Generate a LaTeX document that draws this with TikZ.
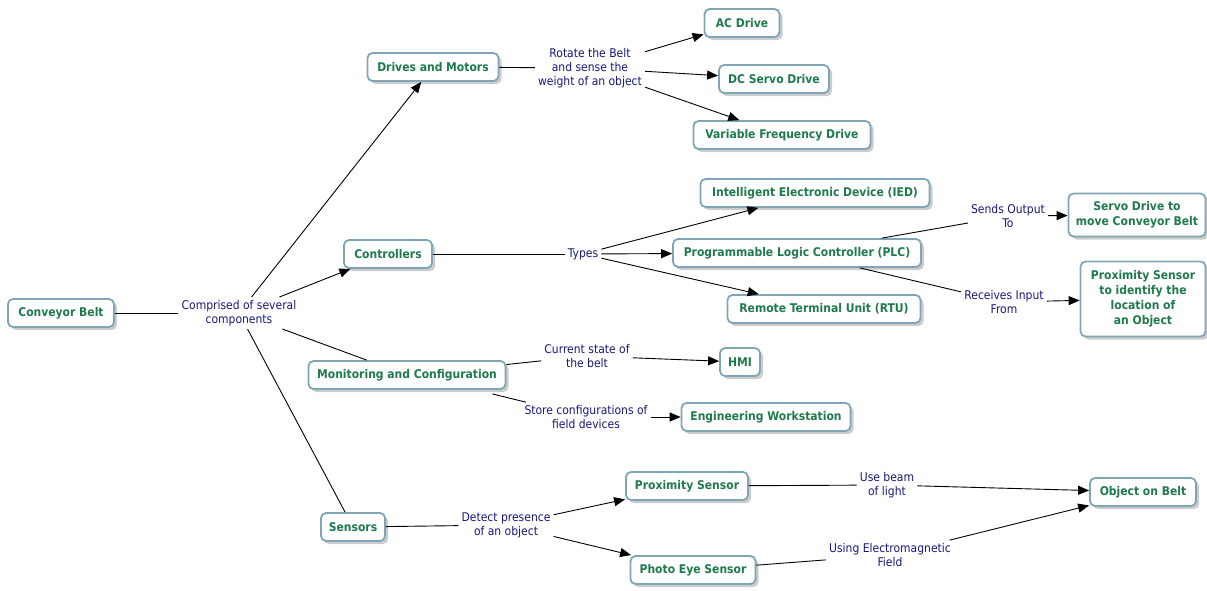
\documentclass[tikz,border=0pt]{standalone}
\usepackage{fontspec}
\setmainfont{DejaVu Sans Condensed}
\usetikzlibrary{arrows.meta,shadows}
\definecolor{cgreen}{HTML}{1F7A4D}
\definecolor{cnavy}{HTML}{18187C}
\definecolor{cborder}{HTML}{7FA6B6}
\tikzset{
 concept/.style={draw=cborder, line width=1.8pt, rounded corners=5pt, fill=white, text=cgreen,
   font=\bfseries\fontsize{12}{15}\selectfont, align=center, inner xsep=6pt, inner ysep=7pt,
   minimum height=28pt,
   drop shadow={shadow xshift=3pt, shadow yshift=-3pt, fill=black!20, opacity=1}},
 phrase/.style={text=cnavy, font=\fontsize{12}{14}\selectfont, align=center, inner sep=3pt},
 link/.style={draw=black, line width=0.9pt},
 arr/.style={link, -{Triangle[length=11pt,width=9pt]}}
}
\begin{document}
\begin{tikzpicture}[x=1pt,y=-1pt]
\useasboundingbox (0,0) rectangle (1207,590);
% concepts
\node[concept, minimum width=106pt] (cb) at (61,313) {Conveyor Belt};
\node[concept, minimum width=131pt] (dm) at (433,67) {Drives and Motors};
\node[concept, minimum width=75pt] (ac) at (742,23) {AC Drive};
\node[concept, minimum width=110pt] (dc) at (774,79) {DC Servo Drive};
\node[concept, minimum width=177pt] (vfd) at (782,135) {Variable Frequency Drive};
\node[concept, minimum width=229pt] (ied) at (815,193) {Intelligent Electronic Device (IED)};
\node[concept, minimum width=88pt] (ctl) at (388,254) {Controllers};
\node[concept, minimum width=248pt] (plc) at (797,253) {Programmable Logic Controller (PLC)};
\node[concept, minimum width=193pt] (rtu) at (824,309) {Remote Terminal Unit (RTU)};
\node[concept, minimum width=137pt, minimum height=43pt] (srv) at (1137,215) {Servo Drive to\\move Conveyor Belt};
\node[concept, minimum width=125pt, minimum height=75pt] (prx2) at (1143,299) {Proximity Sensor\\to identify the\\location of\\an Object};
\node[concept, minimum width=197pt] (mon) at (407,375) {Monitoring and Configuration};
\node[concept, minimum width=40pt] (hmi) at (740,362) {HMI};
\node[concept, minimum width=169pt] (eng) at (766,417) {Engineering Workstation};
\node[concept, minimum width=64pt] (sen) at (353,527) {Sensors};
\node[concept, minimum width=122pt] (prx) at (687,486) {Proximity Sensor};
\node[concept, minimum width=125pt] (pe) at (693,570) {Photo Eye Sensor};
\node[concept, minimum width=106pt] (obj) at (1143,492) {Object on Belt};
% linking phrases
\node[phrase] (p1) at (239,313) {Comprised of several\\components};
\node[phrase] (p2) at (590,68) {Rotate the Belt\\and sense the\\weight of an object};
\node[phrase] (p3) at (583,254) {Types};
\node[phrase] (p4) at (1008,216) {Sends Output\\To};
\node[phrase] (p5) at (1004,302) {Receives Input\\From};
\node[phrase] (p6) at (587,356) {Current state of\\the belt};
\node[phrase] (p7) at (586,417) {Store configurations of\\field devices};
\node[phrase] (p8) at (506,525) {Detect presence\\of an object};
\node[phrase] (p9) at (887,485) {Use beam\\of light};
\node[phrase] (p10) at (890,555) {Using Electromagnetic\\Field};
% connectors
\draw[link] (cb) -- (p1);
\draw[arr] (p1) -- (dm);
\draw[arr] (p1) -- (ctl);
\draw[link] (p1) -- (mon);
\draw[link] (p1) -- (sen);
\draw[link] (dm) -- (p2);
\draw[arr] (p2) -- (ac);
\draw[arr] (p2) -- (dc);
\draw[arr] (p2) -- (vfd);
\draw[link] (ctl) -- (p3);
\draw[arr] (p3) -- (ied);
\draw[arr] (p3) -- (plc);
\draw[arr] (p3) -- (rtu);
\draw[link] (plc) -- (p4);
\draw[arr] (p4) -- (srv);
\draw[link] (plc) -- (p5);
\draw[arr] (p5) -- (prx2);
\draw[link] (mon) -- (p6);
\draw[arr] (p6) -- (hmi);
\draw[link] ([xshift=-14pt,yshift=-4pt]mon.south east) -- (p7);
\draw[arr] (p7) -- (eng);
\draw[link] (sen) -- (p8);
\draw[arr] (p8) -- (prx);
\draw[arr] (p8) -- (pe);
\draw[link] (prx) -- (p9);
\draw[arr] (p9) -- (obj);
\draw[link] (pe) -- (p10);
\draw[arr] (p10) -- (obj);
\end{tikzpicture}
\end{document}
